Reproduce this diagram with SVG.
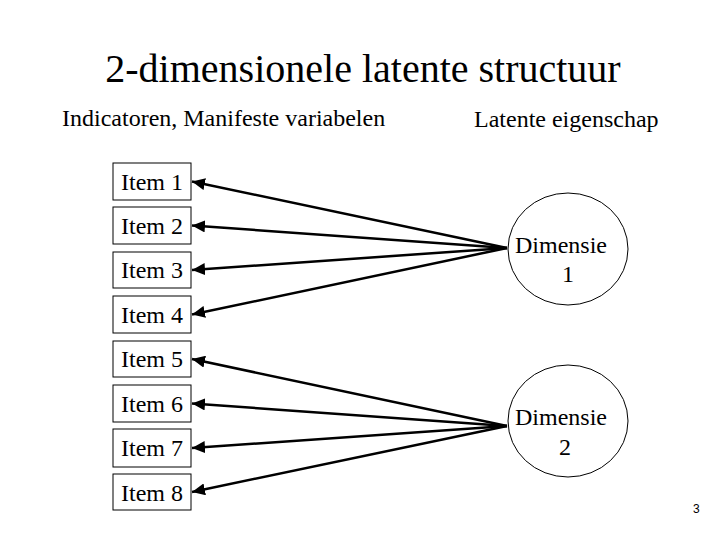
<svg xmlns="http://www.w3.org/2000/svg" width="720" height="540" viewBox="0 0 720 540">
<style>
text{font-family:"Liberation Serif","Times New Roman",serif;fill:#000}
.box{fill:#fff;stroke:#000;stroke-width:1}
.circ{fill:#fff;stroke:#000;stroke-width:1}
.lbl{font-size:24px}
.c{text-anchor:middle}
.edge{stroke:#000;stroke-width:2.5;fill:none;marker-end:url(#ah)}
</style>
<defs>
<marker id="ah" markerUnits="userSpaceOnUse" markerWidth="14" markerHeight="12" refX="13" refY="6" orient="auto">
<path d="M0,0 L13,6 L0,12 Z" fill="#000"/>
</marker>
</defs>
<rect width="720" height="540" fill="#fff"/>
<text x="363" y="82" class="c" font-size="40">2-dimensionele latente structuur</text>
<text x="62" y="126" class="lbl">Indicatoren, Manifeste variabelen</text>
<text x="474" y="127" class="lbl">Latente eigenschap</text>
<g id="connectors">
<line class="edge" x1="507" y1="248" x2="192" y2="181.5"/>
<line class="edge" x1="507" y1="248" x2="192" y2="225.5"/>
<line class="edge" x1="507" y1="248" x2="192" y2="270"/>
<line class="edge" x1="507" y1="248" x2="192" y2="314.5"/>
<line class="edge" x1="507" y1="426" x2="192" y2="359"/>
<line class="edge" x1="507" y1="426" x2="192" y2="403.5"/>
<line class="edge" x1="507" y1="426" x2="192" y2="448"/>
<line class="edge" x1="507" y1="426" x2="192" y2="492"/>
</g>
<g id="item1"><rect class="box" x="113" y="163" width="78" height="37"/><text x="152" y="190" class="lbl c">Item 1</text></g>
<g id="item2"><rect class="box" x="113" y="207" width="78" height="37"/><text x="152" y="234" class="lbl c">Item 2</text></g>
<g id="item3"><rect class="box" x="113" y="252" width="78" height="36"/><text x="152" y="278" class="lbl c">Item 3</text></g>
<g id="item4"><rect class="box" x="113" y="296" width="78" height="37"/><text x="152" y="323" class="lbl c">Item 4</text></g>
<g id="item5"><rect class="box" x="113" y="341" width="78" height="36"/><text x="152" y="367" class="lbl c">Item 5</text></g>
<g id="item6"><rect class="box" x="113" y="385" width="78" height="37"/><text x="152" y="412" class="lbl c">Item 6</text></g>
<g id="item7"><rect class="box" x="113" y="429" width="78" height="38"/><text x="152" y="456" class="lbl c">Item 7</text></g>
<g id="item8"><rect class="box" x="113" y="474" width="78" height="36"/><text x="152" y="501" class="lbl c">Item 8</text></g>
<g id="dim1"><ellipse class="circ" cx="568" cy="249" rx="60" ry="56"/><text x="561" y="253" class="lbl c">Dimensie</text><text x="568" y="282" class="lbl c">1</text></g>
<g id="dim2"><ellipse class="circ" cx="568" cy="421" rx="60" ry="56"/><text x="561" y="425" class="lbl c">Dimensie</text><text x="565" y="455" class="lbl c">2</text></g>
<text x="693" y="513" font-size="12" style="font-family:'Liberation Sans',Arial,sans-serif">3</text>
</svg>
